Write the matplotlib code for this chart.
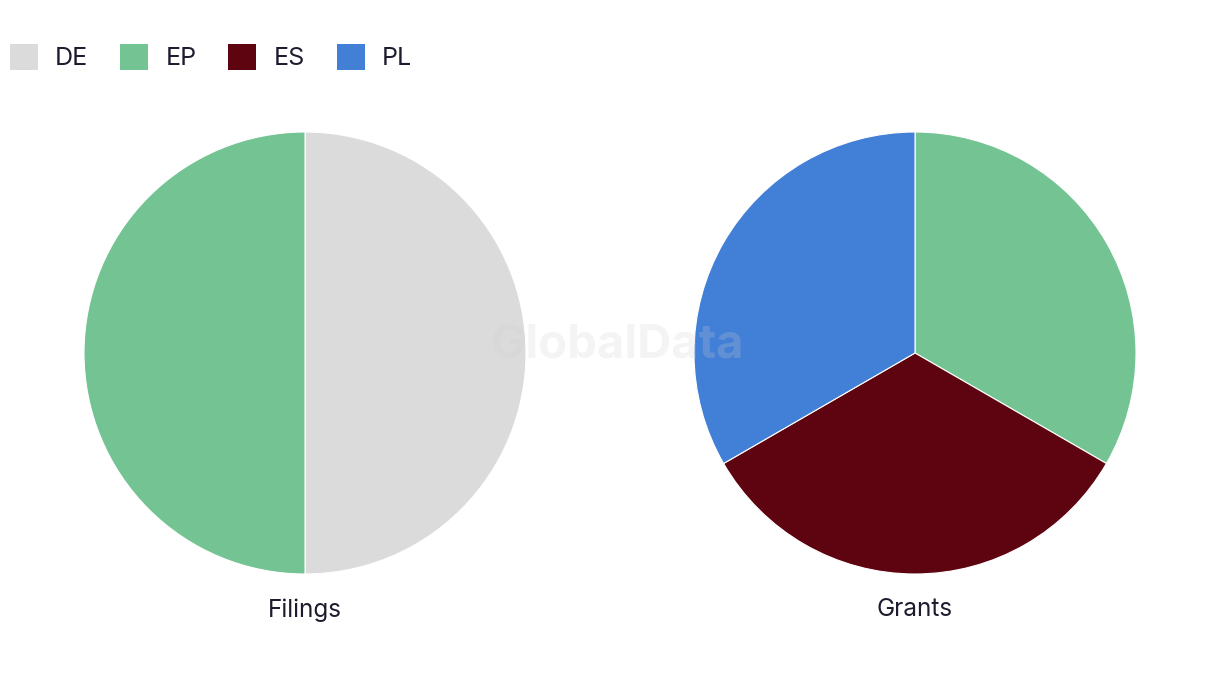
import matplotlib
matplotlib.use("Agg")
import matplotlib.pyplot as plt
from matplotlib.patches import Patch

plt.rcParams['font.family'] = ['Inter', 'DejaVu Sans']

categories = ["DE", "EP", "ES", "PL"]
colors = {"DE": "#dbdbdb", "EP": "#74c393", "ES": "#5e0410", "PL": "#427fd6"}
chart_titles = ["Filings", "Grants"]
filings = [1, 1, 0, 0]
grants = [0, 1, 1, 1]
series = [filings, grants]

W, H = 1220, 686
fig = plt.figure(figsize=(W / 100, H / 100), dpi=100)
text_color = "#1c1c2e"

centers = [(305, 353), (915, 353)]
R = 221
for (cx, cy), vals, title in zip(centers, series, chart_titles):
    ax = fig.add_axes([(cx - R) / W, (H - cy - R) / H, 2 * R / W, 2 * R / H])
    labs = [c for c, v in zip(categories, vals) if v > 0]
    vs = [v for v in vals if v > 0]
    ax.pie(vs, colors=[colors[c] for c in labs], startangle=90, counterclock=False,
           radius=1, wedgeprops=dict(edgecolor="white", linewidth=0.8))
    ax.set_xlim(-1.0, 1.0)
    ax.set_ylim(-1.0, 1.0)
    ax.set_aspect('equal')
    ax.axis('off')
    fig.text(cx / W, 1 - 610 / H, title, ha='center', va='center',
             fontsize=17.5, color=text_color)

handles = [Patch(facecolor=colors[c], edgecolor='none', label=c) for c in categories]
fs = 18
px = fs * 100 / 72
fig.legend(handles=handles, loc='center left', bbox_to_anchor=(10 / W, 1 - 57 / H),
           ncol=4, frameon=False, fontsize=fs, labelcolor=text_color,
           handlelength=28 / px, handleheight=30 / px, handletextpad=17 / px,
           columnspacing=32 / px, borderpad=0, borderaxespad=0)

fig.text(618 / W, 1 - 346 / H, "GlobalData", ha='center', va='center',
         fontsize=34, fontweight='bold', color="#d1d1d1", alpha=0.22, zorder=10)

fig.savefig("out.png", dpi=100, facecolor="white")
